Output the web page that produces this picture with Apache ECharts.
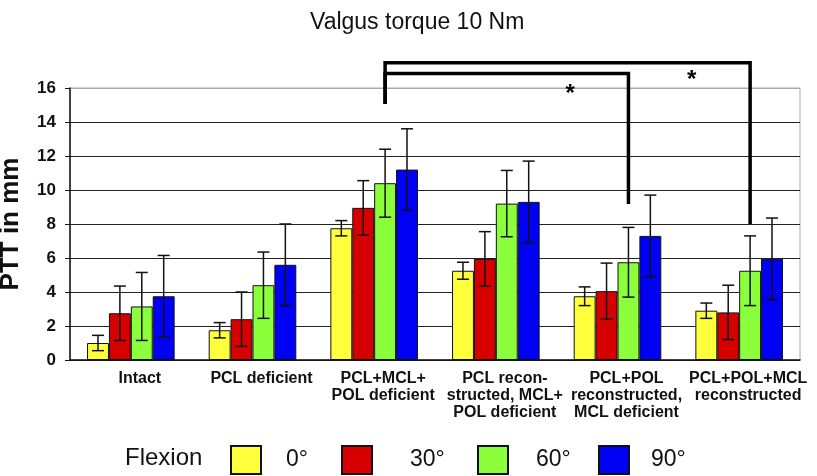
<!DOCTYPE html>
<html><head><meta charset="utf-8">
<script src="https://cdn.jsdelivr.net/npm/echarts@6/dist/echarts.min.js"></script>
<style>html,body{margin:0;padding:0;background:#fff}#c{width:817px;height:476px}</style>
</head><body><div id="c"></div>
<script>
// ---- data ----
const categories = ['Intact', 'PCL deficient', 'PCL+MCL+\nPOL deficient', 'PCL recon-\nstructed, MCL+\nPOL deficient', 'PCL+POL\nreconstructed,\nMCL deficient', 'PCL+POL+MCL\nreconstructed'];
const flexions = ['0°', '30°', '60°', '90°'];
const mean0  = [1.0, 1.75, 7.75, 5.25, 3.75, 2.9];
const sd0    = [0.45, 0.45, 0.45, 0.5, 0.55, 0.45];
const mean30 = [2.75, 2.4, 8.95, 5.95, 4.05, 2.8];
const sd30   = [1.6, 1.6, 1.6, 1.6, 1.65, 1.6];
const mean60 = [3.15, 4.4, 10.4, 9.2, 5.75, 5.25];
const sd60   = [2.0, 1.95, 2.0, 1.95, 2.05, 2.05];
const mean90 = [3.75, 5.6, 11.2, 9.3, 7.3, 5.95];
const sd90   = [2.4, 2.4, 2.4, 2.4, 2.4, 2.4];
const yTicks = [0, 2, 4, 6, 8, 10, 12, 14, 16];
// significance brackets (between 60° bars): [fromCategory, toCategory, topValue, leftEndValue, rightEndValue, starValue]
const brackets = [[2, 4, 16.86, 15.06, 9.18, 15.9], [2, 5, 17.49, 15.06, 8.0, 16.76]];

const means = [mean0, mean30, mean60, mean90];
const sds = [sd0, sd30, sd60, sd90];
const colors = ['#ffff3c', '#d60000', '#8cff3c', '#0000f5'];
const FONT = 'Liberation Sans, Arial, sans-serif';
const GAP = 0.28;

const errData = [];
means.forEach((arr, k) => arr.forEach((m, i) => errData.push([i, m, sds[k][i], k])));

const barSeries = flexions.map((f, k) => ({
  name: f, type: 'bar', data: means[k], barGap: 0, barCategoryGap: (GAP * 100) + '%',
  itemStyle: { color: colors[k], borderColor: '#111', borderWidth: 1 },
  emphasis: { disabled: true }, z: 2
}));

const errSeries = {
  type: 'custom', data: errData, encode: { x: 0, y: 1 }, z: 3, clip: false, silent: true,
  renderItem(params, api) {
    const i = api.value(0), m = api.value(1), s = api.value(2), k = api.value(3);
    const band = api.size([1, 0])[0];
    const bw = band * (1 - GAP) / 4;
    const cx = api.coord([i, m])[0] + (k - 1.5) * bw;
    const yt = api.coord([i, m + s])[1], yb = api.coord([i, m - s])[1];
    const hw = 6, st = { stroke: '#111', lineWidth: 1.5 };
    return { type: 'group', children: [
      { type: 'line', shape: { x1: cx, y1: yt, x2: cx, y2: yb }, style: st },
      { type: 'line', shape: { x1: cx - hw, y1: yt, x2: cx + hw, y2: yt }, style: st },
      { type: 'line', shape: { x1: cx - hw, y1: yb, x2: cx + hw, y2: yb }, style: st }
    ]};
  }
};

const bracketSeries = {
  type: 'custom', data: brackets, encode: { x: 0, y: 3 }, z: 4, clip: false, silent: true,
  renderItem(params, api) {
    const from = api.value(0), to = api.value(1), top = api.value(2), le = api.value(3), re = api.value(4), sv = api.value(5);
    const band = api.size([1, 0])[0];
    const bw = band * (1 - GAP) / 4;
    const off = 0.5 * bw;
    const x1 = api.coord([from, 0])[0] + off, x2 = api.coord([to, 0])[0] + off;
    const yTop = api.coord([from, top])[1], yL = api.coord([from, le])[1], yR = api.coord([to, re])[1];
    const yS = api.coord([to, sv])[1];
    return { type: 'group', children: [
      { type: 'polyline', shape: { points: [[x1, yL], [x1, yTop], [x2, yTop], [x2, yR]] },
        style: { stroke: '#000', lineWidth: 3.5, fill: null } },
      { type: 'text', style: { x: x2 - 0.48 * band, y: yS + 5, text: '*', font: 'bold 24px ' + FONT,
        fill: '#000', align: 'center', verticalAlign: 'middle' } }
    ]};
  }
};

const legendLeft = [230, 341, 477, 598];
const legendPad = [20, 33, 23, 17];
const legends = flexions.map((f, k) => ({
  data: [f], left: legendLeft[k], top: 445, padding: 0, itemWidth: 30, itemHeight: 28,
  selectedMode: false, icon: 'rect',
  textStyle: { fontFamily: FONT, fontSize: 23, color: '#111', padding: [0, 0, 0, legendPad[k]] }
}));

const chart = echarts.init(document.getElementById('c'), null, { renderer: 'canvas' });
chart.setOption({
  animation: false,
  backgroundColor: '#fff',
  title: { text: 'Valgus torque 10 Nm', left: 305, top: 6,
    textStyle: { fontFamily: FONT, fontSize: 23, fontWeight: 'normal', color: '#111' } },
  legend: legends,
  graphic: [{ type: 'text', left: 125, top: 446,
    style: { text: 'Flexion', font: '24px ' + FONT, fill: '#111' } }],
  grid: { left: 70, right: 17, top: 88, bottom: 116, show: true, borderColor: '#aaa', borderWidth: 1,
    containLabel: false, outerBoundsMode: 'none' },
  xAxis: { type: 'category', data: categories,
    axisLine: { lineStyle: { color: '#111', width: 1.5 } }, axisTick: { show: false },
    axisLabel: { interval: 0, margin: 10, fontFamily: FONT, fontSize: 16, fontWeight: 'bold', color: '#111',
      lineHeight: 17, padding: [0, 0, 0, 18], hideOverlap: false } },
  yAxis: { type: 'value', min: yTicks[0], max: yTicks[yTicks.length - 1], interval: yTicks[1] - yTicks[0],
    name: 'PTT in mm', nameLocation: 'middle', nameRotate: 90, nameGap: 46,
    nameTextStyle: { fontFamily: FONT, fontSize: 26, fontWeight: 'bold', color: '#111' },
    axisLine: { show: true, lineStyle: { color: '#111', width: 1.5 } },
    axisTick: { show: true, inside: false, length: 5, lineStyle: { color: '#111' } },
    axisLabel: { margin: 14, fontFamily: FONT, fontSize: 17, fontWeight: 'bold', color: '#111' },
    splitLine: { lineStyle: { color: ['#222', '#222', '#222', '#222', '#222', '#222', '#222', '#222', '#aaa'], width: 1 } } },
  series: [...barSeries, errSeries, bracketSeries]
});
</script></body></html>
